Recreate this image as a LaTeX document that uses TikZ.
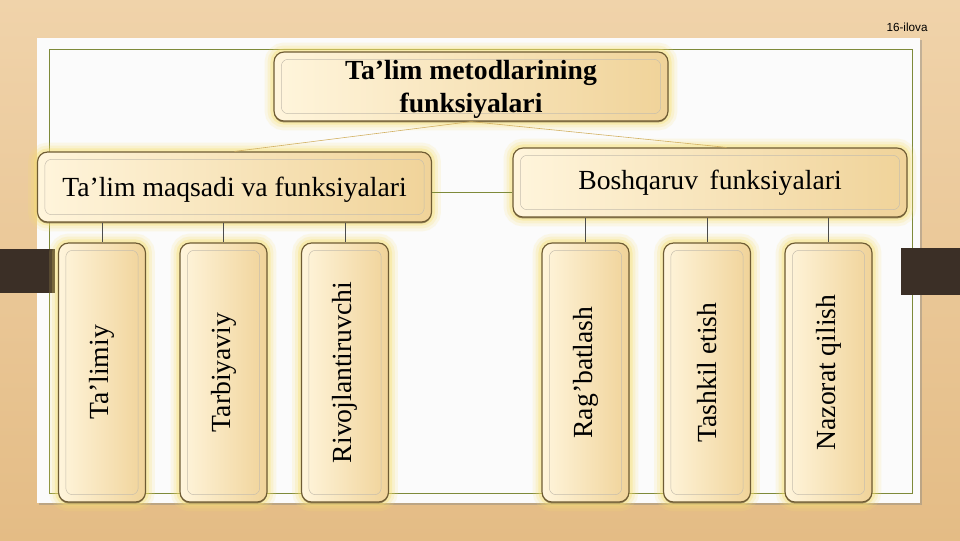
\documentclass[tikz,border=0pt]{standalone}
\usepackage{fontspec}
\setmainfont{Liberation Serif}
\newfontfamily\labelfont{Liberation Sans}
\usepackage{tikz}
\usetikzlibrary{positioning,shadows}
\definecolor{woodlight}{HTML}{F0D3AA}
\definecolor{wooddark}{HTML}{E4BC85}
\definecolor{darkbar}{HTML}{3B2F26}
\definecolor{boxlight}{HTML}{FFF5DC}
\definecolor{boxdark}{HTML}{F0D399}
\definecolor{boxedge}{HTML}{6E5B33}
\definecolor{glow}{HTML}{F7E070}
\definecolor{frameline}{HTML}{7E8A3A}
\definecolor{goldline}{HTML}{D2B060}
\tikzset{
    funcbox/.style={
           rectangle,
           rounded corners=3mm,
           draw=boxedge, line width=1pt,
           left color=boxlight, right color=boxdark,
           preaction={draw=glow, line width=16pt, opacity=0.15},
           preaction={draw=glow, line width=11pt, opacity=0.2},
           preaction={draw=glow, line width=6pt, opacity=0.35},
           drop shadow={shadow xshift=0pt, shadow yshift=-1.2pt,
                        fill=boxedge, opacity=0.7},
           path picture={\draw[white!60!boxedge, rounded corners=2mm, line width=0.4pt]
              ([shift={(2.2mm,-2.2mm)}]path picture bounding box.north west) rectangle
              ([shift={(-2.2mm,2.2mm)}]path picture bounding box.south east);},
           inner sep=2pt,
           align=center,
           font=\fontsize{23.6}{28}\selectfont,
           },
    headbox/.style={funcbox, minimum width=118.2mm, minimum height=20.7mm},
    pillar/.style={funcbox, minimum width=26.1mm, minimum height=77.7mm},
    stem/.style={draw=black!70, line width=0.4pt},
}

\begin{document}
\begin{tikzpicture}[x=0.3mm,y=-0.3mm]

 % page and background
 \useasboundingbox (0,0) rectangle (960,540);
 \fill[top color=woodlight, bottom color=wooddark] (0,0) rectangle (960,540);
 \fill[white!97!gray, drop shadow={shadow xshift=1.5pt, shadow yshift=-1.5pt, opacity=0.4}]
   (37,38) rectangle (920,503);
 \draw[frameline, line width=0.5pt] (49,49) rectangle (912,493);
 \fill[darkbar] (0,249) rectangle (55,293);
 \fill[darkbar] (901,248) rectangle (960,295);

 % slide number in the corner
 \node[font=\labelfont\fontsize{10}{12}\selectfont] (ilova) at (907,27) {16-ilova};

 % top node: the title
 % text depth pulls the two lines down to the middle of the box
 \node[headbox, text depth=-4.4pt] (TM) at (471,86.5)
 {\bfseries Ta’lim metodlarining\\\bfseries funksiyalari};

 % the two groups below the title
 \node[headbox, minimum height=21mm, text depth=0pt] (MF) at (234.5,187)
 {Ta’lim maqsadi va funksiyalari};
 \node[headbox] (BF) at (710,182.5)
 {Boshqaruv\, funksiyalari};

 % left group: three tall boxes, text turned upwards
 \node[pillar] (TL) at (102,372.5) {\rotatebox{90}{Ta’limiy}};
 \node[pillar, right=10mm of TL] (TB) {\rotatebox{90}{Tarbiyaviy}};
 \node[pillar, right=10mm of TB] (RV) {\rotatebox{90}{Rivojlantiruvchi}};

 % right group
 \node[pillar] (RB) at (585.5,372.5) {\rotatebox{90}{Rag’batlash}};
 \node[pillar, right=10mm of RB] (TE) {\rotatebox{90}{Tashkil etish}};
 \node[pillar, right=10mm of TE] (NQ) {\rotatebox{90}{Nazorat qilish}};

 % the lines between the boxes
 \path[draw=goldline, line width=0.5pt]
   (TM.south) -- (MF.north)
   (TM.south) -- ([xshift=5mm]BF.north);
 \draw[frameline, line width=0.6pt]
   ([yshift=-1.5mm]MF.east) -- ([yshift=-1.5mm]MF.east -| BF.west);
 \path[stem]
   (MF.south -| TL.north) -- (TL.north)
   (MF.south -| TB.north) -- (TB.north)
   (MF.south -| RV.north) -- (RV.north)
   (BF.south -| RB.north) -- (RB.north)
   (BF.south -| TE.north) -- (TE.north)
   (BF.south -| NQ.north) -- (NQ.north);
\end{tikzpicture}
\end{document}
